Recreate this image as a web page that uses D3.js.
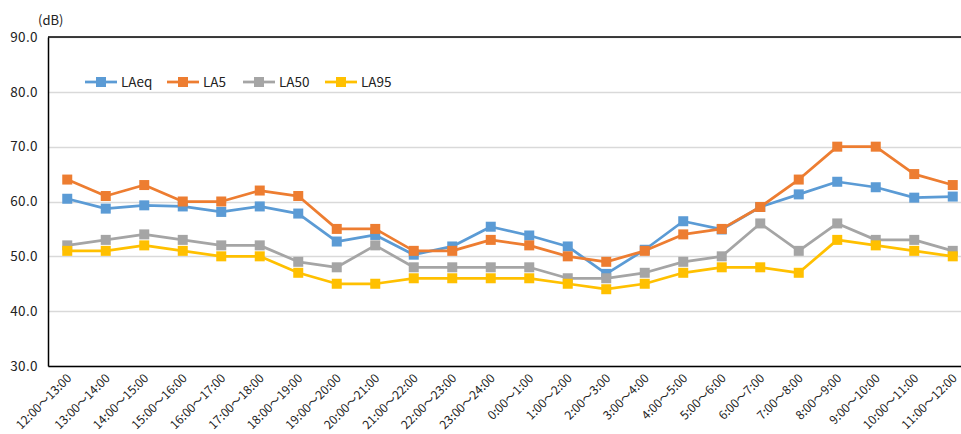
<!DOCTYPE html>
<html>
<head>
<meta charset="utf-8">
<script src="https://cdn.jsdelivr.net/npm/d3@7.9.0/dist/d3.min.js"></script>
<style>
  body { margin: 0; background: #fff; }
  svg { display: block; font-family: "Noto Sans CJK JP", "Noto Sans", sans-serif; }
</style>
</head>
<body>
<svg id="chart" width="961" height="434"></svg>
<script>
const hours = ['12:00～13:00', '13:00～14:00', '14:00～15:00', '15:00～16:00', '16:00～17:00',
  '17:00～18:00', '18:00～19:00', '19:00～20:00', '20:00～21:00', '21:00～22:00', '22:00～23:00',
  '23:00～24:00', '0:00～1:00', '1:00～2:00', '2:00～3:00', '3:00～4:00', '4:00～5:00',
  '5:00～6:00', '6:00～7:00', '7:00～8:00', '8:00～9:00', '9:00～10:00', '10:00～11:00', '11:00～12:00'];

const laeq = [60.5, 58.7, 59.3, 59.1, 58.1, 59.1, 57.8, 52.7, 53.9, 50.3, 51.8, 55.4,
  53.8, 51.8, 46.8, 51.2, 56.4, 54.9, 59.0, 61.3, 63.6, 62.6, 60.7, 60.9];
const la5 = [64, 61, 63, 60, 60, 62, 61, 55, 55, 51, 51, 53, 52, 50, 49, 51, 54, 55, 59, 64, 70, 70, 65, 63];
const la50 = [52, 53, 54, 53, 52, 52, 49, 48, 52, 48, 48, 48, 48, 46, 46, 47, 49, 50, 56, 51, 56, 53, 53, 51];
const la95 = [51, 51, 52, 51, 50, 50, 47, 45, 45, 46, 46, 46, 46, 45, 44, 45, 47, 48, 48, 47, 53, 52, 51, 50];

const seriesNames = ['LAeq', 'LA5', 'LA50', 'LA95'];
const seriesValues = [laeq, la5, la50, la95];
const yTicks = [30, 40, 50, 60, 70, 80, 90];

const colors = ['#5B9BD5', '#ED7D31', '#A5A5A5', '#FFC000'];

const margin = { left: 48, top: 37, bottom: 366 };
const bandW = 38.5;
const mk = 10;

const svg = d3.select('#chart');

let x = d3.scaleBand()
  .domain(hours)
  .range([margin.left, margin.left + bandW * hours.length]);
let y = d3.scaleLinear().domain([30, 90]).range([margin.bottom, margin.top]);

// grid
svg.append('g')
  .selectAll('line')
  .data(yTicks)
  .join('line')
  .attr('x1', margin.left)
  .attr('x2', 961)
  .attr('y1', (d) => Math.round(y(d)) + 0.5)
  .attr('y2', (d) => Math.round(y(d)) + 0.5)
  .attr('stroke', '#d9d9d9')
  .attr('stroke-width', 1.5);

// top border of the plot area
svg.append('line')
  .attr('x1', margin.left).attr('x2', 961)
  .attr('y1', margin.top).attr('y2', margin.top)
  .attr('stroke', '#000').attr('stroke-width', 1.5);

let yAxis = d3.axisLeft(y).tickValues(yTicks).tickSize(0).tickPadding(10)
  .tickFormat(d3.format('.1f'));
let yg = svg.append('g')
  .attr('transform', `translate(${margin.left},0)`)
  .call(yAxis);
yg.select('.domain').attr('stroke', '#000').attr('stroke-width', 1.5);
yg.selectAll('text')
  .attr('font-size', 13.5)
  .attr('fill', '#222')
  .attr('letter-spacing', 0.4)
  .attr('font-family', '"Noto Sans CJK JP", sans-serif');

let xAxis = d3.axisBottom(x).tickSize(0).tickPadding(0);
let xg = svg.append('g')
  .attr('transform', `translate(0,${margin.bottom})`)
  .call(xAxis);
xg.select('.domain').attr('stroke', '#000').attr('stroke-width', 1.5);
xg.selectAll('text')
  .attr('font-size', 12)
  .attr('fill', '#222')
  .attr('font-family', '"Noto Sans CJK JP", sans-serif')
  .attr('text-anchor', 'end')
  .attr('dy', null)
  .attr('y', 0)
  .attr('transform', 'translate(5,13) rotate(-45)');

svg.append('text')
  .attr('x', 38).attr('y', 25)
  .attr('font-size', 13)
  .attr('fill', '#222')
  .text('(dB)');

// series
let line = d3.line()
  .x((d, i) => x(hours[i]) + x.bandwidth() / 2)
  .y((d) => y(d));

seriesValues.forEach((vals, idx) => {
  let g = svg.append('g');
  g.append('path')
    .attr('d', line(vals))
    .attr('fill', 'none')
    .attr('stroke', colors[idx])
    .attr('stroke-width', 2.75)
    .attr('stroke-linejoin', 'round');
  g.selectAll('rect')
    .data(vals)
    .join('rect')
    .attr('x', (d, i) => x(hours[i]) + x.bandwidth() / 2 - mk / 2)
    .attr('y', (d) => y(d) - mk / 2)
    .attr('width', mk)
    .attr('height', mk)
    .attr('fill', colors[idx]);
});

// legend
const legendX = [85, 167, 243, 325];
let legend = svg.append('g');
seriesNames.forEach((name, idx) => {
  let lx = legendX[idx];
  legend.append('line')
    .attr('x1', lx).attr('x2', lx + 32)
    .attr('y1', 82).attr('y2', 82)
    .attr('stroke', colors[idx]).attr('stroke-width', 2.75);
  legend.append('rect')
    .attr('x', lx + 16 - mk / 2).attr('y', 82 - mk / 2)
    .attr('width', mk).attr('height', mk)
    .attr('fill', colors[idx]);
  legend.append('text')
    .attr('x', lx + 36).attr('y', 87)
    .attr('font-size', 13.5)
    .attr('fill', '#222')
    .text(name);
});
</script>
</body>
</html>
